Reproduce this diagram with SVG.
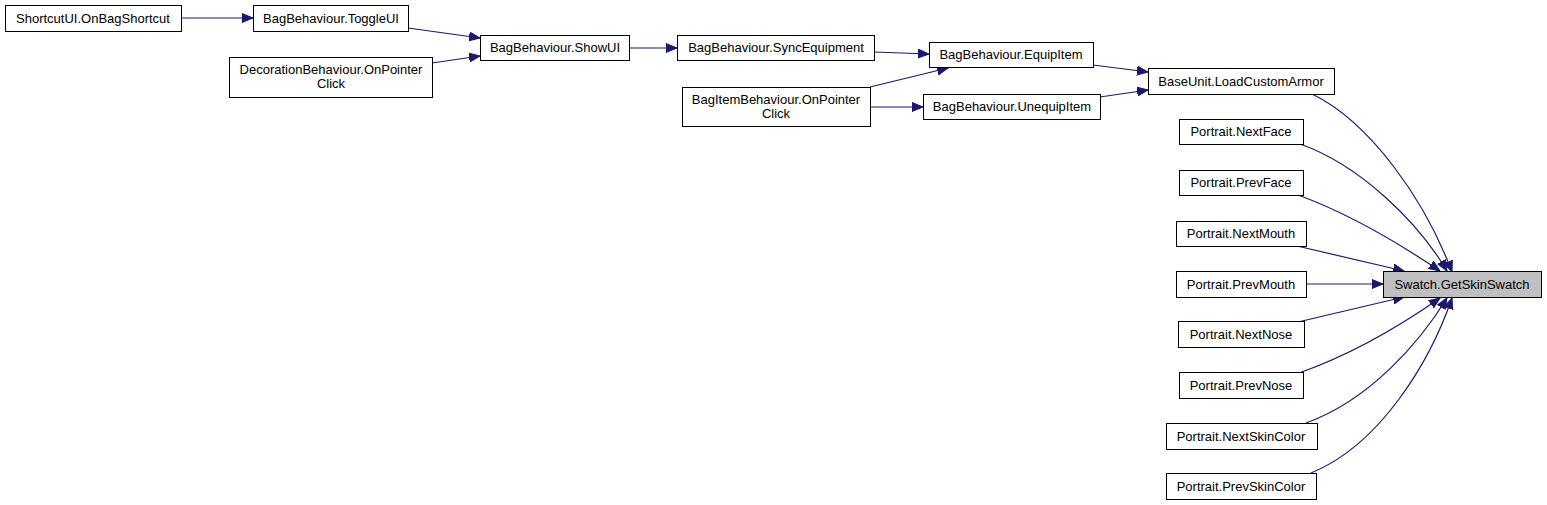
<svg xmlns="http://www.w3.org/2000/svg" width="1547" height="505" viewBox="0 0 1547 505">
<style>
.n rect{fill:#fff;stroke:#000;stroke-width:1}
.n.h rect{fill:#bfbfbf;stroke:#000}
.n text{font-family:"Liberation Sans",Arial,sans-serif;font-size:13px;text-anchor:middle;fill:#000}
.e path{fill:none;stroke:#191970;stroke-width:1.2}
</style>
<defs>
<marker id="a" markerUnits="userSpaceOnUse" markerWidth="12" markerHeight="10" refX="11" refY="5" orient="auto" viewBox="0 0 12 10">
<path d="M0,0.5 L11,5 L0,9.5 Z" fill="#191970" stroke="#191970"/>
</marker>
</defs>
<rect width="1547" height="505" fill="#fff"/>
<g id="connectors" class="e">
<path d="M181,18 L253,18" marker-end="url(#a)"/>
<path d="M408,28 L480,38" marker-end="url(#a)"/>
<path d="M432,63 L480,56" marker-end="url(#a)"/>
<path d="M629,48 L677,48" marker-end="url(#a)"/>
<path d="M874,52 L929,54" marker-end="url(#a)"/>
<path d="M870,87 L948,68" marker-end="url(#a)"/>
<path d="M870,107 L923,107" marker-end="url(#a)"/>
<path d="M1093,65 L1148,72" marker-end="url(#a)"/>
<path d="M1100,97 L1148,90" marker-end="url(#a)"/>
<path d="M1312,94 C1370,122 1425,200 1452,272" marker-end="url(#a)"/>
<path d="M1300,144 C1360,165 1418,222 1447,271" marker-end="url(#a)"/>
<path d="M1298,195 C1350,214 1400,244 1440,271" marker-end="url(#a)"/>
<path d="M1297,246 L1404,271" marker-end="url(#a)"/>
<path d="M1306,284 L1383,284" marker-end="url(#a)"/>
<path d="M1298,322 L1404,297" marker-end="url(#a)"/>
<path d="M1299,373 C1350,355 1400,326 1440,298" marker-end="url(#a)"/>
<path d="M1306,423 C1370,400 1420,342 1447,298" marker-end="url(#a)"/>
<path d="M1311,473 C1380,445 1430,362 1452,298" marker-end="url(#a)"/>
</g>
<g id="n1" class="n"><rect x="5.5" y="5.5" width="176" height="26"/><text x="93" y="23">ShortcutUI.OnBagShortcut</text></g>
<g id="n2" class="n"><rect x="253.5" y="5.5" width="155" height="26"/><text x="331" y="23">BagBehaviour.ToggleUI</text></g>
<g id="n3" class="n"><rect x="229.5" y="57.5" width="203" height="40"/><text x="331" y="74">DecorationBehaviour.OnPointer</text><text x="331" y="88">Click</text></g>
<g id="n4" class="n"><rect x="480.5" y="35.5" width="149" height="25"/><text x="555" y="52">BagBehaviour.ShowUI</text></g>
<g id="n5" class="n"><rect x="677.5" y="35.5" width="197" height="25"/><text x="776" y="52">BagBehaviour.SyncEquipment</text></g>
<g id="n6" class="n"><rect x="682.5" y="87.5" width="188" height="39"/><text x="776" y="104">BagItemBehaviour.OnPointer</text><text x="776" y="118">Click</text></g>
<g id="n7" class="n"><rect x="929.5" y="42.5" width="164" height="25"/><text x="1011" y="59">BagBehaviour.EquipItem</text></g>
<g id="n8" class="n"><rect x="923.5" y="94.5" width="177" height="25"/><text x="1012" y="111">BagBehaviour.UnequipItem</text></g>
<g id="n9" class="n"><rect x="1148.5" y="68.5" width="186" height="26"/><text x="1241" y="86">BaseUnit.LoadCustomArmor</text></g>
<g id="n10" class="n"><rect x="1179.5" y="119.5" width="124" height="25"/><text x="1241" y="136">Portrait.NextFace</text></g>
<g id="n11" class="n"><rect x="1179.5" y="170.5" width="124" height="25"/><text x="1241" y="187">Portrait.PrevFace</text></g>
<g id="n12" class="n"><rect x="1176.5" y="221.5" width="130" height="25"/><text x="1241" y="238">Portrait.NextMouth</text></g>
<g id="n13" class="n"><rect x="1176.5" y="271.5" width="130" height="26"/><text x="1241" y="289">Portrait.PrevMouth</text></g>
<g id="n14" class="n h"><rect x="1383.5" y="271.5" width="158" height="26"/><text x="1462" y="289">Swatch.GetSkinSwatch</text></g>
<g id="n15" class="n"><rect x="1178.5" y="321.5" width="126" height="26"/><text x="1241" y="339">Portrait.NextNose</text></g>
<g id="n16" class="n"><rect x="1179.5" y="372.5" width="124" height="26"/><text x="1241" y="390">Portrait.PrevNose</text></g>
<g id="n17" class="n"><rect x="1166.5" y="423.5" width="151" height="26"/><text x="1241" y="441">Portrait.NextSkinColor</text></g>
<g id="n18" class="n"><rect x="1166.5" y="473.5" width="150" height="26"/><text x="1241" y="491">Portrait.PrevSkinColor</text></g>
</svg>
